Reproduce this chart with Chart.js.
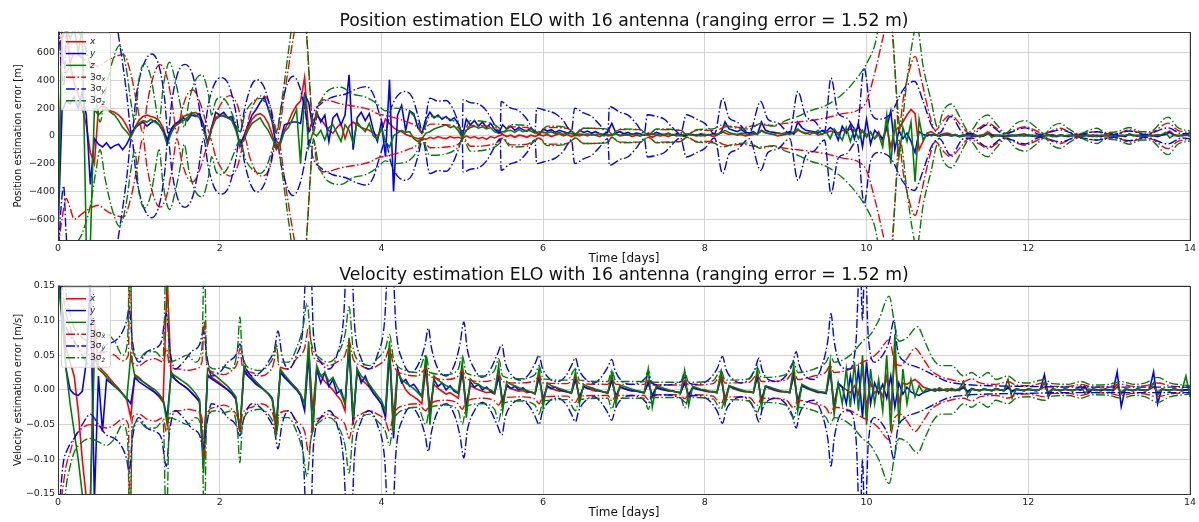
<!DOCTYPE html>
<html>
<head>
<meta charset="utf-8">
<script src="https://cdn.jsdelivr.net/npm/chart.js"></script>
<style>
  html, body { margin: 0; padding: 0; background: #fff; overflow: hidden; }
  #wrap { position: relative; width: 1199px; height: 522px; }
  canvas { position: absolute; left: 0; }
</style>
</head>
<body>
<div id="wrap">
  <canvas id="posChart" width="1199" height="270" style="top:0"></canvas>
  <canvas id="velChart" width="1199" height="260" style="top:262px"></canvas>
</div>
<script>
// sample spacing of the error series (days)
const STEP = 0.05;

const dayTicks = [0, 2, 4, 6, 8, 10, 12, 14];
const posTicks = [-600, -400, -200, 0, 200, 400, 600];
const velTicks = [-0.15, -0.1, -0.05, 0, 0.05, 0.1, 0.15];

// position errors [m], one value every 0.05 day (10 per row = half a day)
const posErrX = [
  -550, 700, 780, 520, 380, 300, 200, 80, -120, -200,
  190, 220, 200, 180, 170, 150, 120, 70, 10, 60,
  110, 140, 150, 140, 130, 110, 60, -30, 40, 80,
  110, 140, 150, 160, 170, 150, 60, -60, 60, 130,
  150, 140, 130, 120, 60, -80, -20, 60, 120, 150,
  160, 140, 90, 10, -100, -60, 40, 100, 170, 220,
  250, 420, 30, 110, 140, 120, 80, 40, 20, 60,
  90, -20, 70, 100, 80, 60, 50, 40, 20, 0,
  40, 120, 90, 60, 40, 30, 10, 0, -10, -20,
  -15, -25, -10, -20, -5, -15, -20, -5, -15, -10,
  -20, 0, -15, -5, -20, -10, -25, -5, -15, 0,
  10, -5, 5, -10, 5, 0, -10, 5, -5, 10,
  0, 10, -5, 5, 15, 0, 10, -5, 5, 0,
  10, 0, 15, 5, -5, 10, 0, 5, 15, 0,
  5, 10, -5, 5, 0, 10, 5, -10, 5, 0,
  5, -5, 10, 0, 5, -5, 10, 5, 0, 5,
  0, 10, -5, 5, 30, 20, 10, 15, 5, 10,
  0, 5, 10, 15, 40, 25, 15, 10, 0, 5,
  10, 20, 15, 40, 30, 20, 10, 25, 5, 15,
  20, 35, 30, 20, 40, 30, 50, 40, 60, 30,
  10, 20, -20, 30, -40, 60, -80, 40, 60, 100,
  150, 190, 160, -100, -40, 20, 30, 10, 5, 15,
  20, 10, 5, 0, 10, 5, 0, -5, 5, 10,
  30, 10, 5, 0, -5, 5, 0, 5, 10, 15,
  5, 0, 5, -5, 0, 5, 10, 0, 5, 0,
  -5, 5, 0, 5, 10, 0, -5, 5, 0, 5,
  0, 5, -5, 5, 0, 10, 5, 0, -5, 5,
  0, 5, 10, 5, 20, 35, 10, 5, 0, 5,
  0
];
const posErrY = [
  -700, 180, 250, 230, 280, 200, 310, 150, -350, -20,
  -60, -80, -50, -90, -70, -60, -100, -60, 0, 60,
  80, 100, 70, 95, 110, 80, 40, -30, 50, 90,
  100, 130, 110, 150, 140, 160, 80, -50, 60, 170,
  150, 170, 130, 140, 60, -60, 0, 80, 150, 190,
  240, 280, 200, 100, -80, -40, 80, 90, 100, 100,
  90, 300, 240, 60, 170, 100, 150, -40, 130, 160,
  80, 150, 440, -100, 130, 170, 110, 160, 40, -40,
  100, -150, 405, -400, 150, 220, 40, 180, 160, 60,
  20, 120, 170, 130, 150, 120, 140, 110, 130, 90,
  -10, 120, 80, 110, 70, 100, 60, 90, 50, 20,
  80, 50, 70, 40, 60, 45, 35, 55, 30, 10,
  50, 35, 45, 25, 40, 30, 20, 35, 5, 40,
  25, 35, 20, 30, 15, 10, 30, 90, 20, 30,
  15, 25, 10, 20, 15, 5, 20, 10, 25, 15,
  10, 20, 5, 15, 10, 0, 15, 10, 5, 15,
  10, 5, 15, 10, 20, 100, 50, 40, 30, 45,
  25, 20, 30, 10, 100, 40, 30, 25, 20, 15,
  20, 30, 15, 100, 60, 40, 35, 30, 20, 40,
  30, 60, 40, -30, 70, 20, 80, -20, 90, -80,
  120, -60, 40, 10, -20, 60, 180, -100, 40, -20,
  20, -40, -120, 30, 10, 0, 10, 5, 0, 5,
  10, 0, 5, -5, 0, 5, 0, 5, -5, 0,
  15, 5, 0, 5, -5, 0, 5, 0, 5, 0,
  5, 0, -5, 5, 0, 5, 0, -5, 5, 0,
  0, 5, 0, -5, 5, 0, 5, 0, -5, 5,
  5, 0, 5, 0, -5, 15, 5, 0, 5, 0,
  5, 0, -5, 5, 10, 25, 5, 0, 5, 10,
  5
];
const posErrZ = [
  -700, 780, 780, 700, 780, 600, 780, -780, -780, 190,
  150, 180, 200, 170, 150, 110, 60, 30, -10, 50,
  90, 110, 100, 120, 100, 80, 30, -60, 20, 70,
  90, 110, 130, 170, 150, 130, 60, -60, 50, 120,
  140, 150, 130, 110, 40, -60, -30, 40, 90, 110,
  130, 80, 40, -20, -80, -50, 30, 60, 120, 190,
  -200, 300, -80, 20, 0, 40, -30, 60, 80, 20,
  -40, 80, 40, -50, 100, 60, 30, 90, 0, -20,
  60, -40, -80, 0, 20, 40, 25, 30, -20, -40,
  -20, 20, 30, 50, 60, 70, 80, 60, 70, 40,
  -15, 40, 60, 70, 55, 65, 50, 60, 30, 20,
  30, 35, 40, 25, 45, 30, 40, 35, 20, 30,
  25, 20, 30, 15, 25, 10, 20, 15, 5, 15,
  10, 15, 5, 10, 15, 0, 10, 5, 15, 5,
  10, 5, 15, 10, 0, 10, 5, 15, 10, 5,
  10, 15, 5, 10, 0, 15, 10, 5, 10, 0,
  10, 5, 15, 10, 20, 40, 25, 15, 10, 20,
  15, 10, 20, 15, 35, 20, 15, 10, 20, 15,
  20, 10, 30, 50, 25, 15, 30, 20, 40, 10,
  30, -20, 50, 10, -30, 60, -40, 50, -20, 40,
  -10, 30, -20, 10, -80, 150, -200, 120, -150, 60,
  -40, 100, -330, 120, -30, 20, 0, 10, -5, 10,
  5, 0, 10, -5, 5, 0, 10, 5, -5, 5,
  20, -10, 5, 0, 5, -5, 0, 5, 0, 5,
  0, 5, -5, 10, 0, 5, -5, 0, 5, 0,
  5, 0, 5, -5, 0, 5, 0, -5, 5, 0,
  0, 5, -5, 0, 5, 10, 0, 5, -5, 0,
  5, 0, 5, 10, 25, -15, 5, 0, 5, 10,
  0
];

// 3-sigma position bounds [m] as [day, value] (drawn as + and -)
const posSigX = [
  [0,800],[0.05,600],[0.1,450],[0.15,520],[0.2,600],[0.3,560],[0.4,520],[0.5,500],[0.6,540],[0.7,570],
  [0.81,585],[0.9,450],[0.98,220],[1.05,20],[1.1,220],[1.18,430],[1.26,513],[1.35,420],[1.42,200],[1.47,20],
  [1.53,180],[1.6,300],[1.67,330],[1.75,250],[1.83,100],[1.88,15],[1.95,150],[2.05,260],[2.13,290],[2.22,220],
  [2.28,80],[2.31,15],[2.37,150],[2.45,260],[2.52,290],[2.62,230],[2.68,80],[2.72,15],[2.8,300],[2.88,600],
  [2.95,820],[3.05,900],[3.1,500],[3.16,20],[3.2,200],[3.3,260],[3.5,230],[3.7,210],[3.85,190],[3.95,160],
  [4.1,140],[4.3,105],[4.45,60],[4.5,20],[4.6,85],[4.8,80],[4.95,60],[5.02,20],[5.1,75],[5.3,70],
  [5.45,40],[5.5,15],[5.6,65],[5.8,60],[5.95,15],[6.05,60],[6.3,55],[6.4,15],[6.5,55],[6.8,45],
  [6.85,10],[6.95,45],[7.2,45],[7.3,10],[7.4,45],[7.7,40],[7.78,10],[7.9,40],[8.15,40],[8.22,60],
  [8.3,70],[8.45,60],[8.69,80],[8.8,75],[9.0,90],[9.15,100],[9.3,110],[9.5,130],[9.7,160],[9.9,188],
  [10.0,250],[10.1,450],[10.2,700],[10.28,900],[10.35,500],[10.4,30],[10.45,250],[10.52,450],[10.6,573],[10.68,400],
  [10.78,150],[10.85,40],[10.95,110],[11.04,152],[11.15,90],[11.27,20],[11.4,60],[11.5,92],[11.6,60],[11.72,15],
  [11.85,50],[11.96,67],[12.1,35],[12.2,12],[12.3,40],[12.4,55],[12.5,30],[12.63,10],[12.75,25],[12.85,30],
  [12.95,15],[13.1,15],[13.25,45],[13.4,20],[13.5,20],[13.73,92],[13.85,40],[14,25]
];
const posSigY = [
  [0,900],[0.04,500],[0.07,360],[0.1,700],[0.13,900],[0.3,900],[0.5,900],[0.7,850],[0.78,600],[0.85,300],
  [0.91,20],[0.97,300],[1.05,500],[1.16,590],[1.26,480],[1.32,260],[1.36,20],[1.41,260],[1.48,450],[1.57,515],
  [1.67,430],[1.74,230],[1.8,20],[1.86,230],[1.94,380],[2.02,420],[2.11,370],[2.19,200],[2.25,20],[2.31,200],
  [2.39,360],[2.46,405],[2.55,350],[2.63,190],[2.7,20],[2.76,210],[2.84,380],[2.91,430],[2.99,350],[3.05,200],
  [3.11,30],[3.15,150],[3.25,230],[3.4,280],[3.55,300],[3.7,340],[3.81,355],[3.9,300],[3.98,150],[4.05,40],
  [4.12,200],[4.2,290],[4.29,320],[4.38,280],[4.45,150],[4.51,30],[4.6,272],[4.7,250],[4.8,255],[4.88,200],
  [4.95,100],[5.0,20],[5.01,260],[5.1,240],[5.2,230],[5.3,180],[5.4,80],[5.47,20],[5.48,248],[5.58,205],
  [5.7,180],[5.8,120],[5.9,30],[5.92,200],[6.0,188],[6.15,160],[6.25,110],[6.35,30],[6.39,200],[6.5,165],
  [6.6,140],[6.7,80],[6.8,20],[6.82,212],[6.95,170],[7.05,150],[7.15,90],[7.25,20],[7.29,152],[7.4,140],
  [7.5,120],[7.6,60],[7.7,15],[7.77,152],[7.9,120],[8.0,90],[8.12,15],[8.22,272],[8.3,130],[8.4,100],
  [8.55,20],[8.69,248],[8.78,120],[8.9,95],[9.05,20],[9.15,320],[9.25,140],[9.35,110],[9.48,30],[9.56,417],
  [9.65,160],[9.75,130],[9.88,40],[9.97,490],[10.05,180],[10.15,120],[10.3,160],[10.45,330],[10.59,393],[10.7,250],
  [10.8,80],[10.9,20],[11.04,140],[11.2,20],[11.3,15],[11.5,80],[11.7,15],[11.96,58],[12.15,10],[12.4,43],
  [12.6,10],[12.85,30],[13.05,10],[13.25,35],[13.45,10],[13.73,58],[13.9,15],[14,20]
];
const posSigZ = [
  [0,900],[0.1,900],[0.2,800],[0.3,700],[0.4,500],[0.47,250],[0.52,100],[0.58,300],[0.68,550],[0.76,650],
  [0.84,500],[0.9,250],[0.95,100],[1.0,400],[1.07,520],[1.15,420],[1.2,250],[1.25,100],[1.3,350],[1.38,530],
  [1.45,400],[1.52,200],[1.56,60],[1.62,250],[1.7,400],[1.78,440],[1.86,300],[1.9,150],[1.95,250],[2.02,280],
  [2.1,230],[2.18,120],[2.25,30],[2.32,170],[2.42,250],[2.5,270],[2.58,220],[2.65,100],[2.7,20],[2.78,300],
  [2.86,650],[2.93,900],[3.0,900],[3.07,750],[3.12,300],[3.16,30],[3.22,200],[3.35,330],[3.5,350],[3.65,300],
  [3.8,280],[3.95,230],[4.05,180],[4.15,200],[4.3,190],[4.45,100],[4.5,20],[4.6,140],[4.8,130],[4.95,80],
  [5.01,20],[5.1,110],[5.3,100],[5.45,60],[5.5,20],[5.6,80],[5.8,75],[5.95,20],[6.05,70],[6.3,60],
  [6.4,15],[6.5,55],[6.8,50],[6.85,10],[6.95,50],[7.2,45],[7.3,10],[7.4,50],[7.7,40],[7.78,10],
  [7.9,45],[8.1,50],[8.22,80],[8.35,60],[8.55,50],[8.69,90],[8.85,70],[9.0,110],[9.15,140],[9.3,180],
  [9.5,220],[9.7,300],[9.9,430],[10.0,520],[10.1,650],[10.2,900],[10.3,900],[10.36,400],[10.42,50],[10.5,400],
  [10.56,650],[10.62,800],[10.7,500],[10.8,250],[10.88,60],[10.95,180],[11.05,230],[11.15,140],[11.27,30],[11.4,120],
  [11.5,150],[11.6,90],[11.72,20],[11.85,90],[11.96,110],[12.1,60],[12.2,15],[12.3,70],[12.4,90],[12.5,50],
  [12.63,15],[12.75,40],[12.85,55],[12.95,25],[13.1,30],[13.25,60],[13.4,30],[13.5,30],[13.73,135],[13.85,60],
  [14,35]
];

// velocity errors [m/s], one value every 0.05 day
const velErrX = [
  0.16, 0.12, 0.06, 0.04, 0.02, -0.03, -0.1, -0.155, -0.16, 0.1,
  0.035, 0.028, 0.022, 0.015, 0.008, 0.002, -0.006, -0.014, -0.04, 0.022,
  0.018, 0.012, 0.008, 0.003, -0.004, -0.01, -0.018, 0.16, 0.02, 0.015,
  0.01, 0.006, 0.002, -0.004, -0.01, -0.018, -0.1, 0.022, 0.018, 0.014,
  0.01, 0.005, 0.0, -0.006, -0.014, -0.06, 0.025, 0.02, 0.015, 0.01,
  0.005, 0.0, -0.006, -0.014, -0.062, 0.028, 0.02, 0.014, 0.008, 0.002,
  -0.006, -0.02, 0.06, -0.03, 0.03, 0.02, 0.012, 0.006, 0.0, -0.008,
  -0.015, -0.03, 0.07, -0.045, 0.025, 0.015, 0.01, 0.004, -0.004, -0.012,
  -0.02, -0.035, 0.05, -0.04, 0.03, 0.012, 0.0, -0.006, -0.01, -0.014,
  -0.02, 0.03, -0.025, 0.008, 0.002, -0.002, -0.006, -0.004, -0.008, -0.012,
  0.025, -0.02, 0.006, 0.003, 0.0, -0.002, -0.004, -0.003, -0.006, 0.02,
  -0.015, 0.005, 0.002, 0.0, -0.002, -0.001, -0.004, -0.003, -0.006, 0.018,
  -0.012, 0.004, 0.002, 0.0, -0.002, -0.001, -0.003, -0.005, 0.015, -0.01,
  0.004, 0.002, 0.0, -0.002, -0.001, -0.003, -0.005, 0.014, -0.01, 0.004,
  0.002, 0.0, -0.002, -0.001, -0.003, -0.005, 0.012, -0.008, 0.004, 0.002,
  0.0, -0.002, -0.001, -0.003, -0.005, 0.012, -0.008, 0.004, 0.002, 0.0,
  -0.002, -0.003, -0.002, -0.004, 0.016, -0.012, 0.005, 0.002, 0.0, -0.002,
  -0.003, -0.002, -0.004, 0.018, -0.014, 0.005, 0.002, 0.0, -0.002, -0.003,
  -0.002, -0.004, 0.02, -0.016, 0.006, 0.003, 0.0, -0.002, -0.004, -0.003,
  -0.005, 0.025, -0.02, 0.008, 0.004, 0.0, -0.004, 0.006, -0.006, 0.03,
  -0.025, 0.01, -0.005, 0.004, -0.01, 0.02, -0.03, 0.05, -0.02, 0.01,
  0.008, 0.012, 0.015, 0.01, 0.004, 0.002, 0.0, -0.002, 0.003, 0.0,
  -0.002, 0.002, 0.0, -0.001, 0.006, -0.004, 0.002, 0.0, -0.001, 0.001,
  0.0, -0.001, 0.002, 0.0, -0.001, 0.005, -0.003, 0.001, 0.0, -0.001,
  0.001, 0.0, -0.001, 0.001, 0.004, -0.003, 0.001, 0.0, -0.001, 0.001,
  0.0, -0.001, 0.001, 0.0, 0.003, -0.002, 0.001, 0.0, -0.001, 0.001,
  0.0, -0.001, 0.004, -0.003, 0.001, 0.0, -0.001, 0.001, 0.0, -0.001,
  0.001, 0.004, -0.003, 0.001, 0.0, -0.001, 0.001, 0.0, -0.001, 0.0,
  0.001
];
const velErrY = [
  0.16, 0.12, 0.03, 0.0, -0.006, -0.008, -0.002, 0.04, 0.16, -0.16,
  0.02, -0.06, 0.015, 0.01, 0.005, 0.0, -0.006, -0.012, -0.02, 0.018,
  0.012, 0.008, 0.004, 0.0, -0.004, -0.008, -0.014, -0.04, 0.025, 0.015,
  0.01, 0.006, 0.002, -0.004, -0.01, -0.016, -0.1, 0.02, 0.016, 0.012,
  0.008, 0.004, 0.0, -0.005, -0.012, -0.06, 0.03, 0.02, 0.014, 0.008,
  0.004, 0.0, -0.005, -0.012, -0.05, 0.025, 0.018, 0.012, 0.006, 0.0,
  -0.008, -0.03, 0.05, -0.06, 0.03, 0.01, 0.025, 0.005, 0.015, -0.005,
  0.0, -0.02, 0.06, -0.05, 0.03, 0.01, 0.02, 0.005, -0.005, -0.012,
  -0.02, -0.04, 0.06, -0.07, 0.03, 0.01, 0.015, 0.005, 0.008, 0.0,
  -0.01, 0.04, -0.04, 0.015, 0.005, 0.01, 0.0, 0.006, -0.002, -0.005,
  0.03, -0.03, 0.012, 0.004, 0.008, 0.0, 0.004, -0.002, -0.004, 0.02,
  -0.02, 0.008, 0.002, 0.005, 0.0, 0.003, -0.002, -0.003, -0.005, 0.02,
  -0.015, 0.006, 0.002, 0.004, 0.0, -0.002, -0.003, -0.004, 0.016, -0.012,
  0.005, 0.002, 0.003, 0.0, -0.002, -0.003, -0.004, 0.014, -0.01, 0.004,
  0.002, 0.0, -0.001, -0.002, -0.003, -0.004, 0.01, -0.008, 0.003, 0.001,
  0.0, -0.001, -0.002, -0.003, -0.004, 0.01, -0.008, 0.003, 0.001, 0.0,
  -0.001, -0.002, -0.003, -0.004, 0.025, -0.02, 0.006, 0.003, 0.001, -0.001,
  -0.002, -0.003, -0.004, 0.022, -0.018, 0.005, 0.003, 0.001, -0.001, -0.002,
  -0.003, -0.004, 0.025, -0.02, 0.006, 0.003, 0.001, -0.001, -0.003, -0.004,
  -0.005, 0.03, -0.03, 0.01, 0.004, -0.02, 0.02, -0.015, 0.03, -0.04,
  0.04, -0.02, 0.01, -0.005, 0.008, -0.012, 0.02, -0.025, 0.01, -0.006,
  0.004, -0.003, -0.006, -0.008, -0.004, -0.002, 0.0, 0.001, -0.001, 0.0,
  0.001, 0.0, -0.001, 0.001, 0.003, -0.002, 0.001, 0.0, -0.001, 0.001,
  0.0, -0.001, 0.001, 0.0, -0.001, 0.003, -0.002, 0.001, 0.0, -0.001,
  0.001, 0.0, -0.001, 0.001, 0.022, -0.01, 0.001, 0.0, -0.001, 0.001,
  0.0, -0.001, 0.001, 0.0, 0.006, -0.004, 0.001, 0.0, -0.001, 0.001,
  0.0, -0.001, 0.026, -0.024, 0.001, 0.0, -0.001, 0.001, 0.0, -0.001,
  0.001, 0.026, -0.02, 0.001, 0.0, -0.001, 0.001, 0.0, -0.001, 0.0,
  0.0
];
const velErrZ = [
  0.16, 0.1, 0.03, -0.02, -0.06, -0.1, -0.15, -0.16, -0.16, 0.05,
  0.03, 0.025, 0.018, 0.012, 0.006, 0.0, -0.006, -0.014, 0.05, 0.02,
  0.016, 0.012, 0.008, 0.004, 0.0, -0.006, -0.014, -0.05, 0.025, 0.02,
  0.016, 0.012, 0.008, 0.002, -0.005, -0.014, -0.12, 0.03, 0.024, 0.02,
  0.015, 0.01, 0.005, -0.002, -0.01, -0.06, 0.035, 0.025, 0.018, 0.012,
  0.006, 0.0, -0.006, -0.014, -0.05, 0.03, 0.022, 0.015, 0.008, 0.002,
  -0.006, -0.02, 0.07, -0.06, 0.035, 0.02, 0.025, 0.012, 0.018, 0.005,
  -0.005, -0.02, 0.075, -0.04, 0.03, 0.02, 0.015, 0.008, 0.0, -0.008,
  -0.015, -0.03, 0.07, -0.06, 0.025, 0.015, 0.01, 0.006, 0.002, -0.004,
  -0.01, 0.05, -0.05, 0.02, 0.014, 0.01, 0.006, 0.004, 0.0, -0.004,
  0.04, -0.04, 0.016, 0.01, 0.008, 0.004, 0.002, 0.0, -0.004, 0.035,
  -0.03, 0.012, 0.008, 0.006, 0.003, 0.001, -0.001, -0.003, -0.005, 0.03,
  -0.025, 0.01, 0.006, 0.004, 0.002, 0.0, -0.002, -0.004, 0.026, -0.02,
  0.008, 0.005, 0.003, 0.001, -0.001, -0.003, -0.004, 0.025, -0.02, 0.007,
  0.005, 0.003, 0.001, -0.001, -0.002, -0.004, 0.03, -0.025, 0.006, 0.004,
  0.002, 0.0, -0.002, -0.003, -0.004, 0.028, -0.022, 0.005, 0.003, 0.001,
  0.0, -0.002, -0.003, -0.004, 0.025, -0.02, 0.006, 0.004, 0.002, 0.0,
  -0.002, -0.003, -0.004, 0.03, -0.025, 0.006, 0.004, 0.002, 0.0, -0.002,
  -0.003, -0.004, 0.035, -0.03, 0.008, 0.005, 0.002, 0.0, -0.002, -0.003,
  -0.004, 0.04, -0.035, 0.01, -0.02, 0.03, -0.025, 0.04, -0.03, 0.05,
  -0.05, 0.03, -0.02, 0.015, -0.03, 0.05, -0.06, 0.08, -0.05, 0.03,
  -0.02, 0.015, -0.01, 0.006, -0.004, 0.002, 0.0, -0.001, 0.001, 0.0,
  0.001, -0.001, 0.0, 0.002, 0.012, -0.01, 0.001, 0.0, -0.001, 0.001,
  0.0, -0.001, 0.001, 0.0, -0.001, 0.015, -0.012, 0.001, 0.0, -0.001,
  0.001, 0.0, -0.001, 0.001, 0.01, -0.008, 0.001, 0.0, -0.001, 0.001,
  0.0, -0.001, 0.001, 0.006, -0.005, 0.001, 0.0, -0.001, 0.001, 0.0,
  -0.001, 0.001, 0.008, -0.006, 0.001, 0.0, -0.001, 0.001, 0.0, -0.001,
  0.001, 0.01, -0.008, 0.001, 0.0, -0.001, 0.001, 0.0, -0.001, 0.02,
  -0.01
];

// 3-sigma velocity bounds [m/s] as [day, value]
const velSigX = [
  [0,0.2],[0.05,0.15],[0.1,0.11],[0.15,0.09],[0.2,0.07],[0.3,0.055],[0.4,0.05],[0.5,0.052],[0.6,0.055],[0.7,0.05],
  [0.8,0.042],[0.87,0.05],[0.89,0.2],[0.92,0.04],[1.0,0.035],[1.1,0.042],[1.2,0.045],[1.3,0.04],[1.34,0.06],[1.38,0.035],
  [1.5,0.03],[1.6,0.028],[1.7,0.03],[1.78,0.04],[1.81,0.1],[1.84,0.035],[1.95,0.025],[2.05,0.022],[2.15,0.028],[2.22,0.04],
  [2.25,0.06],[2.28,0.035],[2.4,0.025],[2.5,0.02],[2.6,0.025],[2.67,0.04],[2.7,0.065],[2.73,0.035],[2.85,0.03],[2.95,0.045],
  [3.05,0.06],[3.1,0.09],[3.15,0.05],[3.25,0.04],[3.35,0.035],[3.45,0.04],[3.55,0.05],[3.6,0.07],[3.65,0.045],[3.75,0.035],
  [3.85,0.03],[3.95,0.035],[4.05,0.045],[4.1,0.06],[4.15,0.035],[4.3,0.022],[4.45,0.02],[4.55,0.03],[4.6,0.02],[4.8,0.015],
  [4.95,0.02],[5.0,0.028],[5.05,0.016],[5.25,0.012],[5.4,0.016],[5.45,0.022],[5.5,0.012],[5.7,0.01],[5.9,0.013],[5.95,0.02],
  [6.0,0.01],[6.3,0.009],[6.4,0.018],[6.45,0.009],[6.8,0.008],[6.85,0.016],[6.9,0.008],[7.25,0.008],[7.3,0.014],[7.35,0.007],
  [7.7,0.007],[7.75,0.013],[7.8,0.007],[8.1,0.009],[8.2,0.02],[8.25,0.01],[8.55,0.011],[8.65,0.022],[8.7,0.012],[9.0,0.014],
  [9.1,0.026],[9.15,0.015],[9.35,0.02],[9.5,0.026],[9.55,0.035],[9.6,0.025],[9.8,0.03],[9.95,0.04],[10.05,0.045],[10.15,0.055],
  [10.28,0.072],[10.35,0.04],[10.42,0.035],[10.5,0.045],[10.6,0.06],[10.7,0.045],[10.8,0.028],[10.9,0.02],[11.0,0.016],[11.2,0.012],
  [11.3,0.016],[11.4,0.01],[11.6,0.008],[11.75,0.012],[11.85,0.007],[12.0,0.006],[12.2,0.01],[12.3,0.005],[12.5,0.005],[12.65,0.008],
  [12.8,0.004],[13.0,0.005],[13.15,0.008],[13.3,0.005],[13.45,0.006],[13.6,0.01],[13.75,0.006],[14,0.004]
];
const velSigY = [
  [0,0.2],[0.06,0.11],[0.12,0.085],[0.2,0.07],[0.3,0.05],[0.4,0.035],[0.5,0.05],[0.6,0.065],[0.7,0.07],[0.78,0.08],
  [0.85,0.1],[0.88,0.118],[0.92,0.07],[1.0,0.04],[1.1,0.055],[1.2,0.06],[1.28,0.07],[1.34,0.11],[1.38,0.06],[1.45,0.03],
  [1.55,0.04],[1.65,0.055],[1.75,0.065],[1.8,0.085],[1.84,0.05],[1.9,0.02],[2.0,0.025],[2.1,0.04],[2.2,0.05],[2.25,0.066],
  [2.3,0.04],[2.4,0.02],[2.5,0.025],[2.6,0.04],[2.68,0.06],[2.72,0.085],[2.77,0.05],[2.85,0.03],[2.95,0.05],[3.03,0.09],
  [3.08,0.2],[3.12,0.2],[3.16,0.08],[3.25,0.04],[3.35,0.03],[3.45,0.05],[3.53,0.1],[3.58,0.2],[3.62,0.2],[3.67,0.09],
  [3.75,0.045],[3.85,0.03],[3.95,0.05],[4.04,0.1],[4.09,0.2],[4.13,0.2],[4.18,0.09],[4.27,0.04],[4.37,0.025],[4.47,0.04],
  [4.54,0.065],[4.58,0.089],[4.62,0.06],[4.7,0.03],[4.8,0.02],[4.9,0.035],[4.97,0.065],[5.02,0.098],[5.06,0.06],[5.15,0.03],
  [5.25,0.018],[5.35,0.03],[5.43,0.05],[5.49,0.065],[5.53,0.04],[5.62,0.02],[5.72,0.014],[5.82,0.022],[5.9,0.038],[5.95,0.05],
  [5.99,0.032],[6.08,0.016],[6.18,0.012],[6.28,0.02],[6.35,0.035],[6.4,0.046],[6.44,0.03],[6.53,0.015],[6.63,0.01],[6.73,0.02],
  [6.8,0.033],[6.85,0.044],[6.89,0.028],[6.98,0.012],[7.1,0.008],[7.22,0.012],[7.3,0.02],[7.34,0.01],[7.45,0.007],[7.6,0.008],
  [7.7,0.012],[7.76,0.018],[7.8,0.01],[7.9,0.008],[8.05,0.015],[8.15,0.03],[8.22,0.048],[8.26,0.03],[8.35,0.015],[8.45,0.01],
  [8.55,0.016],[8.62,0.03],[8.67,0.046],[8.71,0.028],[8.8,0.014],[8.9,0.012],[9.0,0.02],[9.08,0.036],[9.13,0.055],[9.17,0.035],
  [9.26,0.018],[9.35,0.015],[9.45,0.035],[9.52,0.07],[9.56,0.11],[9.6,0.07],[9.68,0.035],[9.78,0.03],[9.87,0.07],[9.92,0.2],
  [9.95,0.1],[9.98,0.2],[10.02,0.08],[10.1,0.04],[10.2,0.05],[10.28,0.07],[10.34,0.1],[10.38,0.06],[10.48,0.04],[10.6,0.034],
  [10.72,0.028],[10.85,0.02],[11.0,0.012],[11.2,0.008],[11.5,0.006],[12.0,0.005],[12.5,0.004],[13.0,0.004],[13.5,0.004],[14,0.004]
];
const velSigZ = [
  [0,0.2],[0.05,0.2],[0.1,0.14],[0.15,0.11],[0.2,0.09],[0.3,0.075],[0.4,0.07],[0.5,0.075],[0.6,0.08],[0.7,0.07],
  [0.8,0.05],[0.86,0.07],[0.89,0.2],[0.92,0.06],[1.0,0.045],[1.1,0.055],[1.2,0.055],[1.3,0.045],[1.34,0.2],[1.38,0.04],
  [1.5,0.045],[1.6,0.05],[1.7,0.04],[1.78,0.06],[1.81,0.2],[1.84,0.04],[1.95,0.03],[2.05,0.033],[2.15,0.03],[2.22,0.06],
  [2.25,0.105],[2.28,0.05],[2.4,0.03],[2.5,0.028],[2.6,0.035],[2.67,0.05],[2.7,0.067],[2.73,0.04],[2.85,0.04],[2.95,0.06],
  [3.03,0.09],[3.08,0.125],[3.13,0.07],[3.25,0.045],[3.35,0.04],[3.45,0.05],[3.55,0.08],[3.6,0.12],[3.65,0.06],[3.75,0.04],
  [3.85,0.035],[3.95,0.045],[4.05,0.06],[4.1,0.08],[4.15,0.045],[4.3,0.028],[4.45,0.025],[4.55,0.05],[4.6,0.025],[4.8,0.022],
  [4.95,0.03],[5.0,0.05],[5.05,0.024],[5.25,0.02],[5.4,0.028],[5.45,0.045],[5.5,0.02],[5.7,0.016],[5.9,0.022],[5.95,0.035],
  [6.0,0.016],[6.3,0.014],[6.4,0.03],[6.45,0.014],[6.8,0.012],[6.85,0.028],[6.9,0.012],[7.25,0.012],[7.3,0.028],[7.35,0.011],
  [7.7,0.011],[7.75,0.026],[7.8,0.011],[8.1,0.013],[8.2,0.028],[8.25,0.014],[8.55,0.016],[8.65,0.032],[8.7,0.018],[9.0,0.022],
  [9.1,0.04],[9.15,0.025],[9.35,0.03],[9.5,0.04],[9.55,0.05],[9.6,0.04],[9.8,0.05],[9.95,0.07],[10.05,0.08],[10.15,0.1],
  [10.28,0.135],[10.34,0.1],[10.4,0.07],[10.5,0.075],[10.63,0.091],[10.72,0.07],[10.82,0.045],[10.92,0.035],[11.05,0.035],[11.2,0.02],
  [11.3,0.025],[11.4,0.018],[11.5,0.025],[11.6,0.015],[11.75,0.02],[11.85,0.012],[12.0,0.01],[12.2,0.015],[12.3,0.009],[12.5,0.008],
  [12.65,0.012],[12.8,0.007],[13.0,0.008],[13.15,0.012],[13.3,0.008],[13.45,0.01],[13.6,0.018],[13.75,0.01],[14,0.006]
];

const FONT = '"DejaVu Sans", sans-serif';
const RED = '#ff0000', BLUE = '#0000ff', GREEN = '#008000';
const DASHDOT = [9, 2.4, 1.5, 2.4];

const series = vals => vals.map((v, i) => ({ x: +(i * STEP).toFixed(2), y: v }));
const bound = (pairs, sign) => pairs.map(p => ({ x: p[0], y: sign * p[1] }));

function buildDatasets(errs, sigs) {
  const colors = [RED, BLUE, GREEN];
  const list = [];
  errs.forEach((e, i) => list.push({
    data: series(e), borderColor: colors[i], borderWidth: 1.6, tension: 0
  }));
  sigs.forEach((s, i) => {
    [1, -1].forEach(sign => list.push({
      data: bound(s, sign), borderColor: colors[i], borderWidth: 1.4,
      borderDash: DASHDOT, cubicInterpolationMode: 'monotone'
    }));
  });
  // later series are drawn on top, like the original plot
  list.forEach((d, i) => { d.order = list.length - i; d.pointRadius = 0; d.fill = false; });
  return list;
}

const framePlugin = {
  id: 'frame',
  afterDatasetsDraw(chart) {
    const { ctx, chartArea: a } = chart;
    ctx.save();
    ctx.strokeStyle = '#333';
    ctx.lineWidth = 1;
    ctx.setLineDash([]);
    ctx.strokeRect(Math.round(a.left) + 0.5, Math.round(a.top) + 0.5,
      Math.round(a.right - a.left), Math.round(a.bottom - a.top));
    ctx.restore();
  }
};

// legend drawn inside the axes, upper-left, like matplotlib
function legendPlugin(items, firstRow) {
  return {
    id: 'innerLegend',
    afterDraw(chart) {
      const { ctx, chartArea: a } = chart;
      const x0 = a.left + 3.5, y0 = a.top + 1.5, w = 49, h = firstRow + 5 * 11.8 + 8;
      ctx.save();
      ctx.beginPath();
      ctx.roundRect(x0, y0, w, h, 2);
      ctx.fillStyle = 'rgba(255,255,255,0.8)';
      ctx.fill();
      ctx.strokeStyle = '#d6d6d6';
      ctx.lineWidth = 1;
      ctx.stroke();
      items.forEach((it, i) => {
        const y = a.top + firstRow + i * 11.8;
        ctx.strokeStyle = it.color;
        ctx.lineWidth = 1.5;
        ctx.setLineDash(it.dash ? DASHDOT : []);
        ctx.beginPath();
        ctx.moveTo(a.left + 8, y);
        ctx.lineTo(a.left + 28, y);
        ctx.stroke();
        ctx.setLineDash([]);
        ctx.fillStyle = '#222';
        ctx.textBaseline = 'middle';
        let tx = a.left + 32;
        if (it.main) {
          ctx.font = '9px ' + FONT;
          ctx.fillText(it.main, tx, y);
          tx += ctx.measureText(it.main).width;
        }
        if (it.sym) {
          ctx.font = 'italic 9px ' + FONT;
          ctx.fillText(it.sym, tx, y);
          tx += ctx.measureText(it.sym).width;
        }
        if (it.sub) {
          ctx.font = 'italic 6.5px ' + FONT;
          ctx.fillText(it.sub, tx, y + 2.5);
        }
      });
      ctx.restore();
    }
  };
}

function makePanel(id, cfg) {
  return new Chart(document.getElementById(id), {
    type: 'line',
    data: { datasets: cfg.datasets },
    options: {
      responsive: false,
      animation: false,
      devicePixelRatio: 1,
      parsing: false,
      normalized: true,
      spanGaps: true,
      layout: { padding: { left: 0, right: 8, top: 0, bottom: 0 } },
      plugins: {
        legend: { display: false },
        tooltip: { enabled: false },
        title: {
          display: true, text: cfg.title, color: '#111', fullSize: false,
          font: { family: FONT, size: 17.3, weight: 'normal' },
          padding: cfg.titlePad
        }
      },
      scales: {
        x: {
          type: 'linear', min: 0, max: 14,
          afterBuildTicks: s => { s.ticks = dayTicks.map(v => ({ value: v })); },
          afterFit: s => { s.height = cfg.xAxisH; },
          grid: { color: '#c8c8c8', lineWidth: 0.8, drawTicks: false },
          border: { display: false },
          ticks: {
            padding: 3, color: '#222', maxRotation: 0, autoSkip: false,
            font: { family: FONT, size: 9.5 },
            callback: v => String(v)
          },
          title: {
            display: true, text: 'Time [days]', color: '#111',
            font: { family: FONT, size: 12 },
            padding: { top: 0, bottom: cfg.xTitlePad }
          }
        },
        y: {
          type: 'linear', min: cfg.yMin, max: cfg.yMax,
          afterBuildTicks: s => { s.ticks = cfg.yTicks.map(v => ({ value: v })); },
          afterFit: s => { s.width = 58; },
          grid: { color: '#c8c8c8', lineWidth: 0.8, drawTicks: false },
          border: { display: false },
          ticks: {
            padding: 3, color: '#222', autoSkip: false,
            font: { family: FONT, size: 9.5 },
            callback: cfg.yFormat
          },
          title: {
            display: true, text: cfg.yTitle, color: '#111',
            font: { family: FONT, size: 10 },
            padding: { top: 12, bottom: 0 }
          }
        }
      }
    },
    plugins: [framePlugin, legendPlugin(cfg.legend, cfg.legendFirst)]
  });
}

const minus = s => s.replace('-', '\u2212');

makePanel('posChart', {
  title: 'Position estimation ELO with 16 antenna (ranging error = 1.52 m)',
  titlePad: { top: 11, bottom: 0 },
  xAxisH: 30, xTitlePad: 4,
  yMin: -750, yMax: 750, yTicks: posTicks,
  yTitle: 'Position estimation error [m]',
  yFormat: v => minus(String(v)),
  datasets: buildDatasets([posErrX, posErrY, posErrZ], [posSigX, posSigY, posSigZ]),
  legendFirst: 10,
  legend: [
    { color: RED, sym: 'x' }, { color: BLUE, sym: 'y' }, { color: GREEN, sym: 'z' },
    { color: RED, dash: true, main: '3\u03c3', sub: 'x' },
    { color: BLUE, dash: true, main: '3\u03c3', sub: 'y' },
    { color: GREEN, dash: true, main: '3\u03c3', sub: 'z' }
  ]
});

makePanel('velChart', {
  title: 'Velocity estimation ELO with 16 antenna (ranging error = 1.52 m)',
  titlePad: { top: 3, bottom: 0 },
  xAxisH: 28, xTitlePad: 2,
  yMin: -0.15, yMax: 0.15, yTicks: velTicks,
  yTitle: 'Velocity estimation error [m/s]',
  yFormat: v => minus(Number(v).toFixed(2)),
  datasets: buildDatasets([velErrX, velErrY, velErrZ], [velSigX, velSigY, velSigZ]),
  legendFirst: 13,
  legend: [
    { color: RED, sym: '\u1e8b' }, { color: BLUE, sym: '\u1e8f' }, { color: GREEN, sym: '\u017c' },
    { color: RED, dash: true, main: '3\u03c3', sub: '\u1e8b' },
    { color: BLUE, dash: true, main: '3\u03c3', sub: '\u1e8f' },
    { color: GREEN, dash: true, main: '3\u03c3', sub: '\u017c' }
  ]
});
</script>
</body>
</html>
